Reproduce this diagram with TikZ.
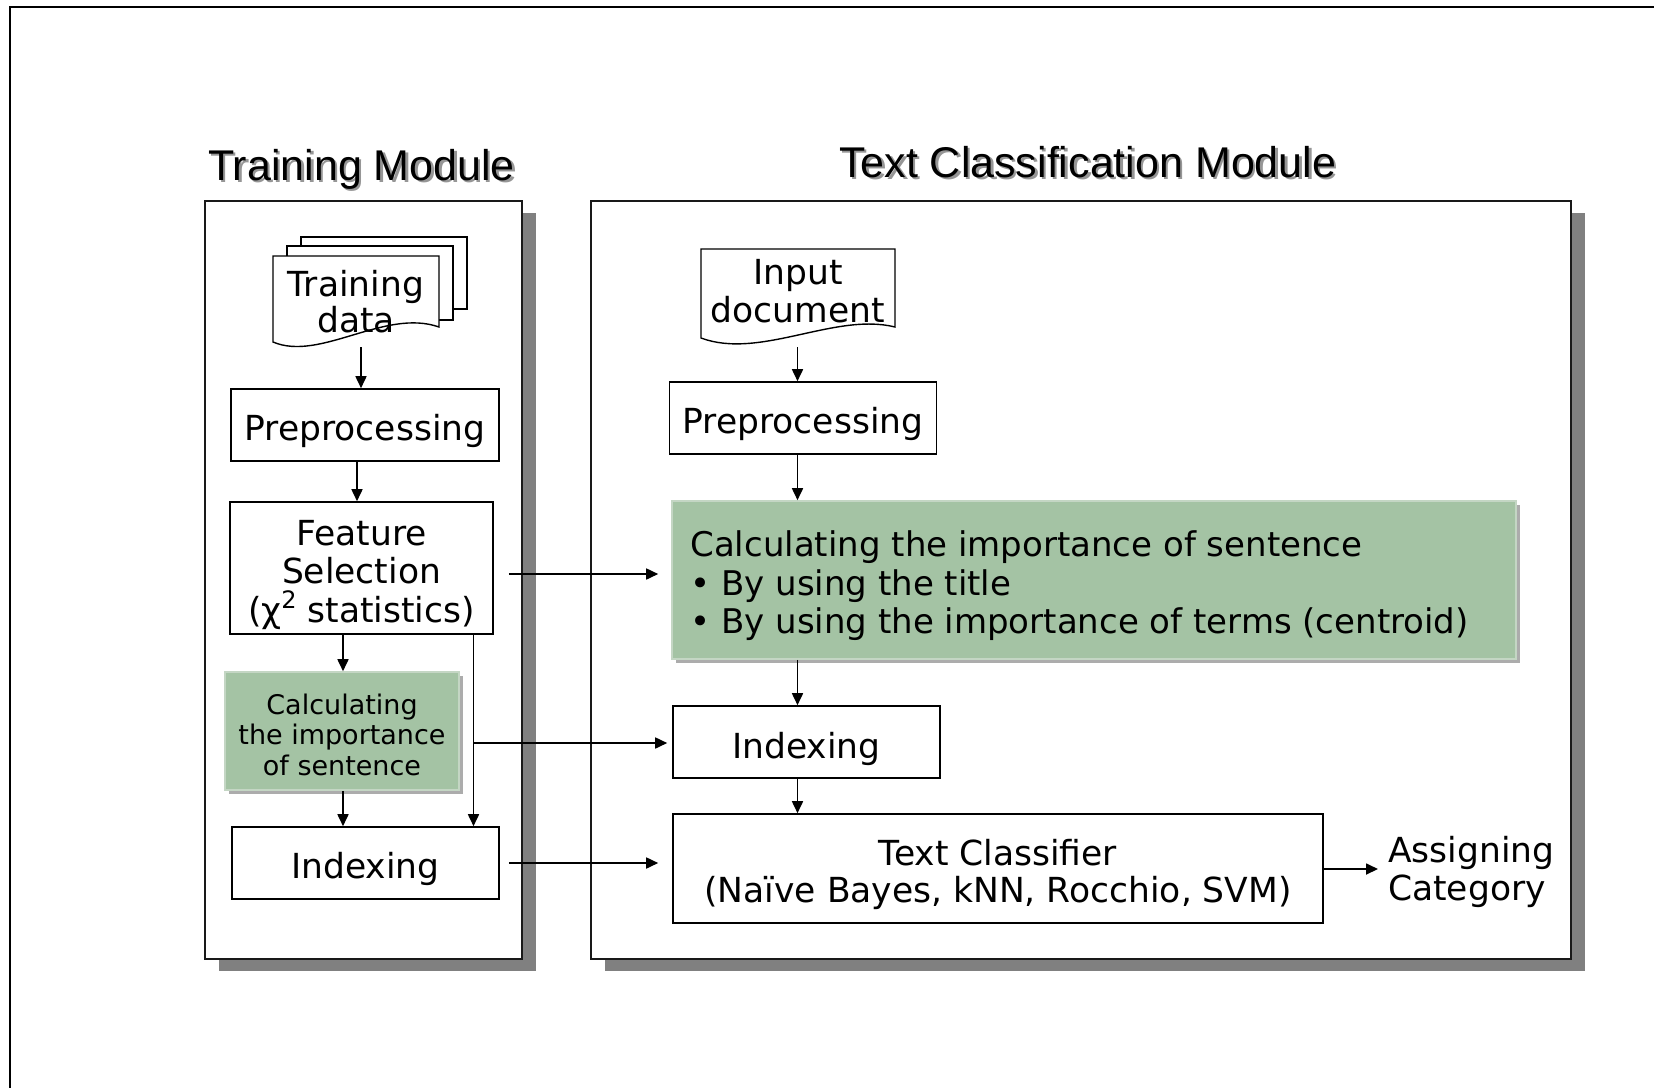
\documentclass[tikz,border=0pt]{standalone}
\usepackage{fontspec}
\setmainfont{DejaVu Sans}
\newfontfamily\titlefont{Liberation Sans}
\usetikzlibrary{arrows.meta,calc,shadows}

\definecolor{sage}{RGB}{164,195,164}
\definecolor{sageedge}{RGB}{196,214,196}
\definecolor{dropgray}{RGB}{128,128,128}
\definecolor{softshadow}{RGB}{172,172,172}
\definecolor{titleshadow}{RGB}{150,150,150}

\newcommand\mainsz{\fontsize{34.5}{38}\selectfont}
\newcommand\greensz{\fontsize{27}{30.5}\selectfont}
\newcommand\titlesz{\titlefont\fontsize{43}{50}\selectfont}
\newcommand\chisq{χ\raisebox{0.40em}{\fontsize{24}{24}\selectfont 2}}

\tikzset{
  module/.style={draw=black!90, line width=2.2pt, fill=white, inner sep=0pt,
    drop shadow={shadow xshift=14pt, shadow yshift=-12pt, fill=dropgray, opacity=1}},
  stepbox/.style={draw=black, line width=1.6pt, fill=white, inner sep=0pt},
  greenbox/.style={draw=sageedge, line width=1.6pt, fill=sage, inner sep=0pt,
    drop shadow={shadow xshift=4pt, shadow yshift=-4pt, fill=softshadow, opacity=1}},
  docframe/.style={inner sep=0pt},
  page/.style={draw=black, line width=1.4pt, fill=white},
  boxtext/.style={inner sep=0pt, align=center, font=\mainsz},
  titletext/.style={inner sep=0pt, anchor=base west, font=\titlesz},
  arr/.style={line width=1.7pt, -{Triangle[length=12pt,width=11pt]}}
}

\begin{document}
\begin{tikzpicture}[x=1pt,y=-1pt]
\useasboundingbox (0,0) rectangle (1654,1087);

% outer frame (top and left edges)
\draw[line width=2.5pt] (10,1095) -- (10,7) -- (1665,7);

% module frames
\node[module, minimum width=317pt, minimum height=758pt] (trainmod) at (363.5,580) {};
\node[module, minimum width=980pt, minimum height=758pt] (classmod) at (1081,580) {};

% module titles with soft text shadow
\node[titletext, text=titleshadow] (trainshadow) at (210.5,182.5) {Training Module};
\node[titletext] (traintitle) at (208,180) {Training Module};
\node[titletext, text=titleshadow] (classshadow) at (841.5,179.5) {Text Classification Module};
\node[titletext] (classtitle) at (839,177) {Text Classification Module};

% training data: stacked documents
\draw[page] (301,237) rectangle (467,309);
\draw[page] (287,246) rectangle (453,320);
\node[docframe, minimum width=166pt, minimum height=86pt] (tdata) at (356,299) {};
\draw[page] (273,256) -- (439,256) -- (439,327)
  .. controls (385,308) and (320,362) .. (273,342) -- cycle;
\node[boxtext, font=\fontsize{34.5}{36}\selectfont, yshift=-3pt] (tdata-t) at (tdata.center) {Training\\data};

% input document
\node[docframe, minimum width=194pt, minimum height=89pt] (idoc) at (798,293.5) {};
\draw[page] (701,249) -- (895,249) -- (895,327)
  .. controls (835,312) and (760,360) .. (701,338) -- cycle;
\node[boxtext, font=\fontsize{34.5}{38}\selectfont] (idoc-t) at (798,291) {Input\\document};

% training module steps
\node[stepbox, minimum width=268pt, minimum height=72pt] (tpre) at (365,425) {};
\node[boxtext, yshift=-6pt] (tpre-t) at (tpre.center) {Preprocessing};
\node[stepbox, minimum width=263pt, minimum height=132pt] (feat) at (361.5,568) {};
\node[boxtext, font=\fontsize{34.5}{38.5}\selectfont, yshift=-7pt] (feat-t) at (feat.center)
  {Feature\\Selection\\(\chisq{} statistics)};
\node[greenbox, minimum width=234pt, minimum height=118pt] (tcalc) at (342,731) {};
\node[boxtext, font=\greensz, yshift=-3.5pt] (tcalc-t) at (tcalc.center)
  {Calculating\\the importance\\of sentence};
\node[stepbox, minimum width=267pt, minimum height=72pt] (tidx) at (365.5,863) {};
\node[boxtext, yshift=-6pt] (tidx-t) at (tidx.center) {Indexing};

% classification module steps
\node[stepbox, minimum width=267pt, minimum height=72pt] (rpre) at (803,418) {};
\node[boxtext, yshift=-6pt] (rpre-t) at (rpre.center) {Preprocessing};
\node[greenbox, minimum width=844pt, minimum height=158pt] (bigg) at (1094,580) {};
\node[boxtext, align=left, anchor=west, font=\fontsize{34}{38.5}\selectfont, yshift=-6pt]
  (bigg-t) at ($(bigg.west)+(19,0)$) {Calculating the importance of sentence\\
  • By using the title\\
  • By using the importance of terms (centroid)};
\node[stepbox, minimum width=267pt, minimum height=72pt] (ridx) at (806.5,742) {};
\node[boxtext, yshift=-6.5pt] (ridx-t) at (ridx.center) {Indexing};
\node[stepbox, minimum width=650pt, minimum height=109pt] (tc) at (998,868.5) {};
\node[boxtext, font=\fontsize{34.5}{37}\selectfont, yshift=-5.5pt] (tc-t) at (tc.center)
  {Text Classifier\\(Naïve Bayes, kNN, Rocchio, SVM)};
\node[boxtext, anchor=west, align=left, font=\fontsize{34.5}{38.5}\selectfont]
  (assign) at (1388,872) {Assigning\\Category};

% connector columns and rows
\coordinate (colA) at (361,0);
\coordinate (colB) at (357,0);
\coordinate (colC) at (343,0);
\coordinate (colD) at (473.5,0);
\coordinate (colR) at (797.5,0);
\coordinate (rowA) at (0,574);
\coordinate (rowB) at (0,743);
\coordinate (rowC) at (0,863);
\coordinate (rowD) at (0,869);
\coordinate (branch) at (473.5,743);

% training module flow
\draw[arr, shorten <=5pt] (tdata.south -| colA) -- (tpre.north -| colA);
\draw[arr] (tpre.south -| colB) -- (feat.north -| colB);
\draw[arr] (feat.south -| colC) -- (tcalc.north -| colC);
\draw[arr] (tcalc.south -| colC) -- (tidx.north -| colC);
\draw[arr] (feat.south -| colD) -- (tidx.north -| colD);

% classification module flow
\draw[arr, shorten <=9pt] (idoc.south -| colR) -- (rpre.north -| colR);
\draw[arr] (rpre.south -| colR) -- (bigg.north -| colR);
\draw[arr] (bigg.south -| colR) -- (ridx.north -| colR);
\draw[arr] (ridx.south -| colR) -- (tc.north -| colR);
\draw[arr, shorten >=10pt] (tc.east |- rowD) -- (assign.west |- rowD);

% links between the modules
\draw[arr, shorten <=15pt, shorten >=13pt] (feat.east |- rowA) -- (bigg.west |- rowA);
\draw[arr, shorten >=5pt] (branch) -- (ridx.west |- rowB);
\draw[arr, shorten <=9pt, shorten >=14pt] (tidx.east |- rowC) -- (tc.west |- rowC);
\end{tikzpicture}
\end{document}
